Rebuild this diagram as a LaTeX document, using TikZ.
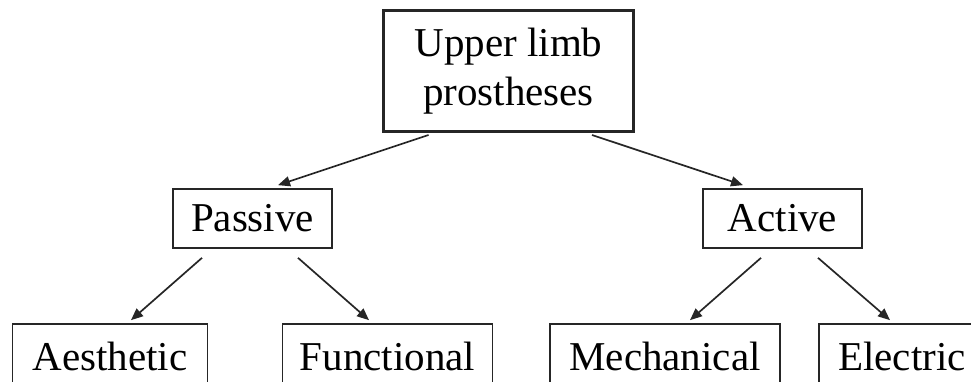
\documentclass[tikz,border=0pt]{standalone}
\usepackage{fontspec}
\setmainfont{Liberation Serif}
\usetikzlibrary{arrows.meta}
\begin{document}
\begin{tikzpicture}[x=1pt,y=-1pt,
  box/.style={draw=black!85, line width=1.7pt, inner sep=0pt, align=center,
    font=\fontsize{41}{49}\selectfont},
  topbox/.style={box, line width=3pt, minimum width=250pt, minimum height=121pt},
  midbox/.style={box, minimum width=159pt, minimum height=59pt},
  lowbox/.style={box, minimum height=64pt},
  arr/.style={draw=black!85, line width=1.7pt, -{Triangle[length=12pt,width=10pt]}}]
\useasboundingbox (0,0) rectangle (971,381);
\clip (0,0) rectangle (971,381);
\node[topbox] (top) at (508.5,71) {Upper limb\\prostheses};
\node[midbox] (pas) at (252.5,218.5) {Passive};
\node[midbox] (act) at (782.5,218.5) {Active};
\node[lowbox, minimum width=195pt] (aes) at (110,356) {Aesthetic};
\node[lowbox, minimum width=210pt] (fun) at (387.5,356) {Functional};
\node[lowbox, minimum width=230pt] (mec) at (665,356) {Mechanical};
\node[lowbox, minimum width=166pt] (ele) at (902,356) {Electric};
\draw[arr] ([xshift=-80pt,yshift=-2pt]top.south) -- ([xshift=25.5pt,yshift=3pt]pas.north);
\draw[arr] ([xshift=83.5pt,yshift=-2pt]top.south) -- ([xshift=-39.5pt,yshift=3pt]act.north);
\draw[arr] ([xshift=-50.5pt,yshift=-9pt]pas.south) -- ([xshift=21pt,yshift=3pt]aes.north);
\draw[arr] ([xshift=45.5pt,yshift=-9pt]pas.south) -- ([xshift=-18.5pt,yshift=3pt]fun.north);
\draw[arr] ([xshift=-21.5pt,yshift=-9pt]act.south) -- ([xshift=25pt,yshift=3pt]mec.north);
\draw[arr] ([xshift=35.5pt,yshift=-9pt]act.south) -- ([xshift=-12pt,yshift=3pt]ele.north);
\end{tikzpicture}
\end{document}
